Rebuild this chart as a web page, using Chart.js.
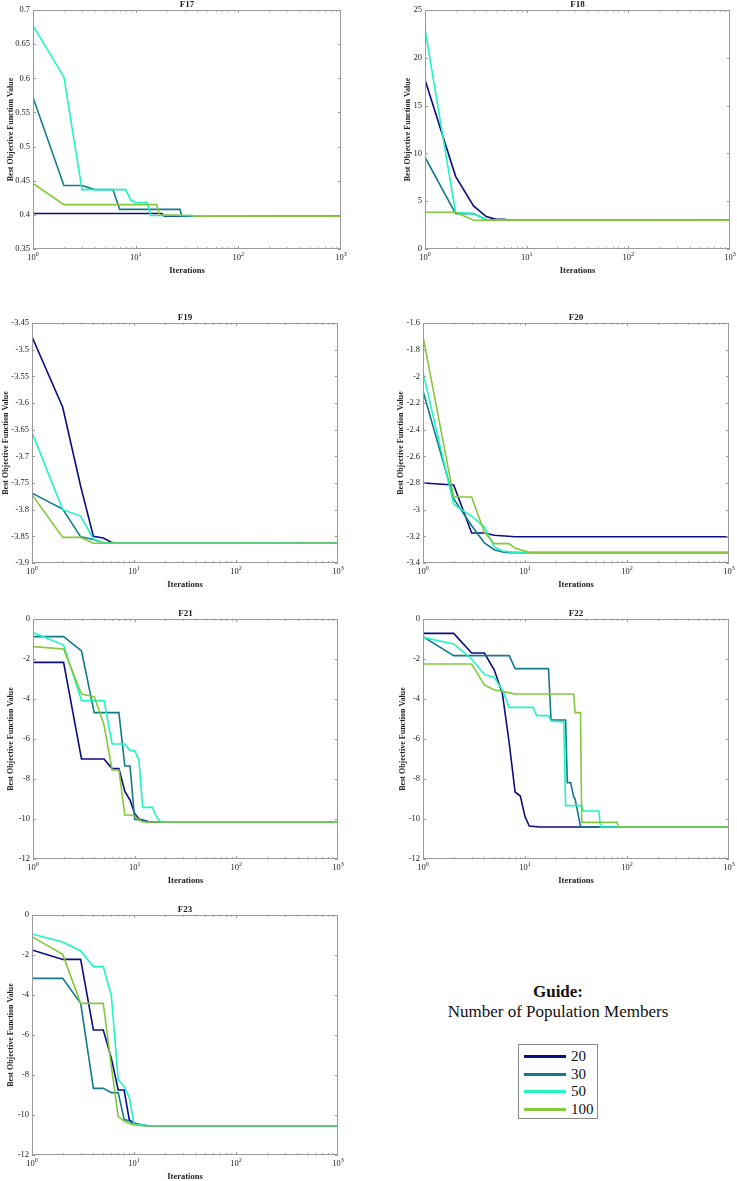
<!DOCTYPE html>
<html>
<head>
<meta charset="utf-8">
<script src="https://cdn.jsdelivr.net/npm/chart.js@4.4.1/dist/chart.umd.min.js"></script>
<style>
  body { margin: 0; background: #fff; width: 737px; height: 1181px; position: relative; overflow: hidden;
         font-family: "Liberation Serif", "Times New Roman", serif; }
  .panel { position: absolute; }
  .guide { position: absolute; left: 400px; width: 316px; text-align: center; color: #111; font-size: 17px; line-height: 20px; }
  .legend-box { position: absolute; left: 518px; top: 1044px; width: 78px; height: 73px; border: 1px solid #888; }
  .legend-row { position: absolute; left: 5px; height: 17px; font-size: 15px; line-height: 17px; color: #111; }
  .legend-row span.line { position: absolute; left: 0; top: 7px; width: 42px; height: 3px; }
  .legend-row span.lbl { position: absolute; left: 47px; top: 0; }
</style>
</head>
<body>
<div id="charts"></div>
<div class="guide" style="top:982px;font-weight:bold;">Guide:</div>
<div class="guide" style="top:1002px;">Number of Population Members</div>
<div class="legend-box" id="legend"></div>

<script>
// Convergence curves, F17 - F23, for different population sizes

const populations = ['20', '30', '50', '100'];
const colors = ['#0c0c80', '#137a8c', '#1ef5c3', '#84c83c'];
const xTicks = [1, 10, 100, 1000];

// [iteration, best objective value]
const f17_20 = [[1, 0.402], [18, 0.402], [19, 0.398], [1000, 0.398]];
const f17_30 = [[1, 0.572], [2, 0.443], [3, 0.443], [4, 0.437], [6, 0.437], [7, 0.408], [27, 0.408], [28, 0.399], [35, 0.398], [1000, 0.398]];
const f17_50 = [[1, 0.677], [2, 0.602], [3, 0.437], [8, 0.437], [9, 0.421], [10, 0.418], [13, 0.418], [14, 0.399], [1000, 0.398]];
const f17_100 = [[1, 0.446], [2, 0.415], [16, 0.415], [17, 0.400], [36, 0.399], [37, 0.398], [1000, 0.398]];

const f18_20 = [[1, 17.7], [2, 7.6], [3, 4.5], [4, 3.4], [5, 3.1], [6, 3.1], [7, 3.0], [1000, 3.0]];
const f18_30 = [[1, 9.6], [2, 3.7], [3, 3.7], [4, 3.05], [1000, 3.0]];
const f18_50 = [[1, 23.0], [2, 3.8], [3, 3.7], [4, 3.05], [1000, 3.0]];
const f18_100 = [[1, 3.85], [2, 3.85], [3, 3.0], [1000, 3.0]];

const f19_20 = [[1, -3.476], [2, -3.608], [3, -3.756], [4, -3.850], [5, -3.853], [6, -3.861], [7, -3.863], [1000, -3.863]];
const f19_30 = [[1, -3.769], [2, -3.799], [3, -3.851], [4, -3.856], [5, -3.862], [1000, -3.863]];
const f19_50 = [[1, -3.655], [2, -3.800], [3, -3.812], [4, -3.855], [5, -3.862], [1000, -3.863]];
const f19_100 = [[1, -3.772], [2, -3.852], [3, -3.852], [4, -3.863], [1000, -3.863]];

const f20_20 = [[1, -2.80], [2, -2.815], [3, -3.175], [4, -3.175], [5, -3.192], [8, -3.203], [1000, -3.203]];
const f20_30 = [[1, -2.11], [2, -2.92], [3, -3.12], [4, -3.25], [5, -3.30], [6, -3.318], [7, -3.322], [1000, -3.322]];
const f20_50 = [[1, -1.97], [2, -2.96], [3, -3.05], [4, -3.13], [5, -3.28], [6, -3.31], [8, -3.322], [1000, -3.322]];
const f20_100 = [[1, -1.70], [2, -2.905], [3, -2.905], [4, -3.17], [5, -3.255], [7, -3.255], [8, -3.29], [10, -3.31], [11, -3.322], [1000, -3.322]];

const f21_20 = [[1, -2.17], [2, -2.17], [3, -7.0], [5, -7.0], [6, -7.48], [7, -7.48], [8, -8.62], [9, -9.05], [10, -9.72], [11, -10.0], [13, -10.1], [14, -10.153], [1000, -10.153]];
const f21_30 = [[1, -0.88], [2, -0.88], [3, -1.6], [4, -4.68], [7, -4.68], [8, -7.35], [9, -7.35], [10, -10.02], [12, -10.05], [13, -10.153], [1000, -10.153]];
const f21_50 = [[1, -0.68], [2, -1.3], [3, -4.08], [5, -4.08], [6, -6.25], [8, -6.25], [9, -6.58], [10, -6.58], [11, -7.05], [12, -9.42], [15, -9.42], [16, -9.8], [17, -10.0], [18, -10.13], [19, -10.153], [1000, -10.153]];
const f21_100 = [[1, -1.38], [2, -1.5], [3, -3.75], [4, -3.88], [5, -5.3], [6, -7.55], [7, -7.55], [8, -9.8], [9, -9.8], [10, -9.85], [11, -10.05], [12, -10.153], [1000, -10.153]];

const f22_20 = [[1, -0.72], [2, -0.72], [3, -1.7], [4, -1.7], [5, -2.55], [6, -3.72], [7, -6.2], [8, -8.65], [9, -8.85], [10, -9.88], [11, -10.35], [14, -10.403], [1000, -10.403]];
const f22_30 = [[1, -0.88], [2, -1.83], [7, -1.83], [8, -2.48], [17, -2.48], [18, -5.05], [25, -5.05], [26, -8.18], [28, -8.18], [30, -8.88], [31, -9.0], [33, -9.7], [35, -10.38], [36, -10.403], [1000, -10.403]];
const f22_50 = [[1, -0.92], [2, -1.25], [3, -2.0], [4, -2.77], [5, -2.92], [6, -3.55], [7, -4.42], [12, -4.42], [13, -4.83], [17, -4.83], [18, -5.1], [24, -5.15], [25, -9.33], [36, -9.33], [37, -9.6], [53, -9.6], [55, -10.4], [1000, -10.403]];
const f22_100 = [[1, -2.25], [3, -2.25], [4, -3.3], [5, -3.55], [6, -3.62], [8, -3.75], [30, -3.75], [31, -4.68], [35, -4.68], [36, -10.17], [80, -10.17], [82, -10.403], [1000, -10.403]];

const f23_20 = [[1, -1.75], [2, -2.22], [3, -2.22], [4, -5.75], [5, -5.75], [6, -7.17], [7, -8.75], [8, -8.75], [9, -10.25], [10, -10.4], [12, -10.5], [13, -10.536], [1000, -10.536]];
const f23_30 = [[1, -3.17], [2, -3.17], [3, -4.42], [4, -8.67], [5, -8.67], [6, -8.88], [7, -8.88], [8, -10.22], [9, -10.3], [10, -10.45], [12, -10.5], [14, -10.536], [1000, -10.536]];
const f23_50 = [[1, -0.95], [2, -1.35], [3, -1.8], [4, -2.58], [5, -2.58], [6, -4.05], [7, -8.22], [8, -8.58], [9, -9.13], [10, -10.45], [12, -10.5], [14, -10.536], [1000, -10.536]];
const f23_100 = [[1, -1.08], [2, -1.97], [3, -4.42], [5, -4.42], [6, -7.58], [7, -10.08], [8, -10.3], [9, -10.42], [10, -10.5], [12, -10.536], [1000, -10.536]];

// y axis ranges per function: min, max, step
const f17_y = [0.35, 0.7, 0.05];
const f18_y = [0, 25, 5];
const f19_y = [-3.9, -3.45, 0.05];
const f20_y = [-3.4, -1.6, 0.2];
const f21_y = [-12, 0, 2];
const f22_y = [-12, 0, 2];
const f23_y = [-12, 0, 2];

// layout: plot area [left, top, right, bottom] and y-title distance left of axis
const panels = [
  { title: 'F17', series: [f17_20, f17_30, f17_50, f17_100], y: f17_y, area: [33, 10, 341, 249], yTitleGap: 22 },
  { title: 'F18', series: [f18_20, f18_30, f18_50, f18_100], y: f18_y, area: [425, 10, 730, 249], yTitleGap: 17.5 },
  { title: 'F19', series: [f19_20, f19_30, f19_50, f19_100], y: f19_y, area: [32, 323, 338, 563], yTitleGap: 26.5 },
  { title: 'F20', series: [f20_20, f20_30, f20_50, f20_100], y: f20_y, area: [423, 323, 729, 563], yTitleGap: 22.5 },
  { title: 'F21', series: [f21_20, f21_30, f21_50, f21_100], y: f21_y, area: [33, 619, 338, 859], yTitleGap: 22 },
  { title: 'F22', series: [f22_20, f22_30, f22_50, f22_100], y: f22_y, area: [423, 619, 729, 859], yTitleGap: 20.3 },
  { title: 'F23', series: [f23_20, f23_30, f23_50, f23_100], y: f23_y, area: [32, 915, 338, 1155], yTitleGap: 21 }
];

const FONT = '"Liberation Serif", "Times New Roman", serif';
const Y_AXIS_W = 40;
const X_AXIS_H = 28;
const PAD_T = 14;
const PAD_R = 8;
const FRAME = '#9a9a9a';
const TEXT = '#222';

// MATLAB-like box: frame, inward ticks, log tick labels, title
const matlabAxes = {
  id: 'matlabAxes',
  afterDraw(chart, args, opts) {
    const ctx = chart.ctx;
    const a = chart.chartArea;
    const xs = chart.scales.x;
    const ys = chart.scales.y;
    ctx.save();
    ctx.strokeStyle = FRAME;
    ctx.lineWidth = 1;
    ctx.strokeRect(a.left + 0.5, a.top + 0.5, a.right - a.left - 1, a.bottom - a.top - 1);

    ctx.beginPath();
    // y major ticks, left and right
    ys.ticks.forEach(t => {
      const py = Math.round(ys.getPixelForValue(t.value)) + 0.5;
      ctx.moveTo(a.left, py); ctx.lineTo(a.left + 3, py);
      ctx.moveTo(a.right, py); ctx.lineTo(a.right - 3, py);
    });
    // x major + minor ticks, bottom and top
    for (let k = 0; k < 3; k++) {
      for (let m = 1; m <= 9; m++) {
        const v = m * Math.pow(10, k);
        const px = Math.round(xs.getPixelForValue(v)) + 0.5;
        const len = m === 1 ? 3 : 1.8;
        ctx.moveTo(px, a.bottom); ctx.lineTo(px, a.bottom - len);
        ctx.moveTo(px, a.top); ctx.lineTo(px, a.top + len);
      }
    }
    ctx.stroke();

    // x tick labels 10^n
    ctx.fillStyle = TEXT;
    ctx.textBaseline = 'middle';
    xTicks.forEach(v => {
      const px = xs.getPixelForValue(v);
      const exp = String(Math.round(Math.log10(v)));
      ctx.font = '8.5px ' + FONT;
      const wBase = ctx.measureText('10').width;
      ctx.font = '6px ' + FONT;
      const wExp = ctx.measureText(exp).width;
      const x0 = px - (wBase + wExp) / 2;
      ctx.font = '8.5px ' + FONT;
      ctx.textAlign = 'left';
      ctx.fillText('10', x0, a.bottom + 9);
      ctx.font = '6px ' + FONT;
      ctx.fillText(exp, x0 + wBase, a.bottom + 5.5);
    });

    // panel title
    ctx.font = 'bold 9px ' + FONT;
    ctx.textAlign = 'center';
    ctx.fillText(opts.text, (a.left + a.right) / 2, a.top - 5);
    ctx.restore();
  }
};

const holder = document.getElementById('charts');

panels.forEach(p => {
  const [L, T, R, B] = p.area;
  const w = Y_AXIS_W + (R - L) + PAD_R;
  const h = PAD_T + (B - T) + X_AXIS_H;
  const div = document.createElement('div');
  div.className = 'panel';
  div.style.left = (L - Y_AXIS_W) + 'px';
  div.style.top = (T - PAD_T) + 'px';
  div.style.width = w + 'px';
  div.style.height = h + 'px';
  const canvas = document.createElement('canvas');
  canvas.width = w;
  canvas.height = h;
  div.appendChild(canvas);
  holder.appendChild(div);

  const titleSize = 8;
  const titlePad = Y_AXIS_W - p.yTitleGap - titleSize * 1.2 / 2;

  new Chart(canvas.getContext('2d'), {
    type: 'line',
    data: {
      datasets: p.series.map((s, i) => ({
        label: populations[i],
        data: s.map(pt => ({ x: pt[0], y: pt[1] })),
        borderColor: colors[i],
        backgroundColor: colors[i],
        borderWidth: 1.6,
        pointRadius: 0,
        tension: 0,
        fill: false,
        order: 3 - i
      }))
    },
    options: {
      responsive: false,
      animation: false,
      devicePixelRatio: 1,
      layout: { padding: { top: PAD_T, right: PAD_R, left: 0, bottom: 0 } },
      plugins: {
        legend: { display: false },
        tooltip: { enabled: false },
        title: { display: false },
        matlabAxes: { text: p.title }
      },
      scales: {
        x: {
          type: 'logarithmic',
          min: 1,
          max: 1000,
          grid: { display: false, drawTicks: false },
          border: { display: false },
          ticks: { display: false },
          title: {
            display: true,
            text: 'Iterations',
            color: TEXT,
            font: { family: FONT, size: 8.5, weight: 'bold' },
            padding: { top: 0, bottom: 1.5 }
          },
          afterFit: s => { s.height = X_AXIS_H; s.paddingLeft = 0; s.paddingRight = 0; }
        },
        y: {
          min: p.y[0],
          max: p.y[1],
          grid: { display: false, drawTicks: false },
          border: { display: false },
          ticks: {
            stepSize: p.y[2],
            color: TEXT,
            padding: 3,
            font: { family: FONT, size: 8.5 },
            callback: v => String(+Number(v).toFixed(2))
          },
          title: {
            display: true,
            text: 'Best Objective Function Value',
            color: TEXT,
            font: { family: FONT, size: titleSize, weight: 'bold' },
            padding: { top: titlePad, bottom: 0 }
          },
          afterFit: s => { s.width = Y_AXIS_W; s.paddingTop = 0; s.paddingBottom = 0; }
        }
      }
    },
    plugins: [matlabAxes]
  });
});

// Guide legend
const legend = document.getElementById('legend');
populations.forEach((name, i) => {
  const row = document.createElement('div');
  row.className = 'legend-row';
  row.style.top = (3 + i * 17.5) + 'px';
  row.innerHTML = '<span class="line" style="background:' + colors[i] + '"></span><span class="lbl">' + name + '</span>';
  legend.appendChild(row);
});
</script>
</body>
</html>
